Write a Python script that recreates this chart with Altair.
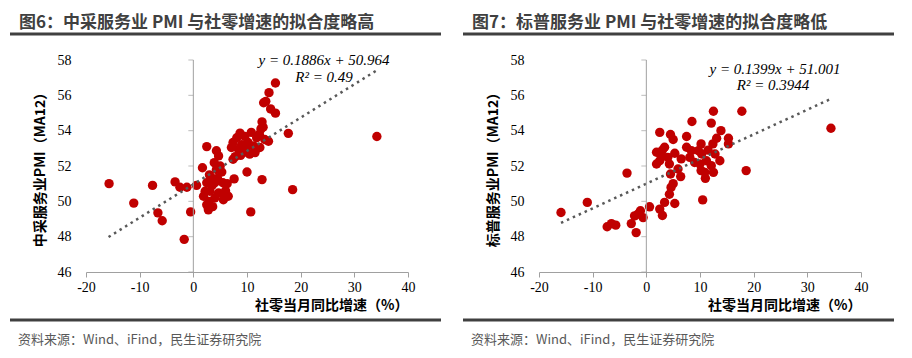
import altair as alt
import pandas as pd

# ---------------- data ----------------
# Figure 6: 社零当月同比增速 (x) vs 中采服务业PMI MA12 (y)
cn_x = [-15.7, -11.1, -7.6, -6.6, -5.8, -3.4, -2.5, -1.2, -1.7, -0.5, 0.6, 1.7, 2.5, 4.3, 4.7,
        3.9, 4.3, 5.3, 3.4, 2.5, 4.0, 5.5, 2.2, 3.1, 4.7, 5.6, 6.5, 1.9, 4.0, 5.6, 2.5, 2.8,
        7.6, 10.0, 12.8, 10.7, 18.5, 7.4, 7.8, 9.3, 8.4, 10.5, 11.5, 12.4, 11.2, 10.2, 7.1,
        7.4, 8.1, 8.7, 9.6, 12.3, 13.3, 14.0, 12.6, 12.8, 17.7, 15.3, 14.4, 13.1, 13.5, 14.1,
        15.3, 34.2, 3.5, 4.5, 6.0, 3.0, 5.0, 6.3, 2.9, 3.6, 9.0, 11.8, 10.8, 9.9, 13.0, 8.8]
cn_y = [51.0, 49.9, 50.9, 49.35, 48.9, 51.1, 50.8, 50.8, 47.85, 49.4, 50.9, 51.9, 53.1, 52.86, 52.57,
        52.19, 51.8, 51.66, 51.33, 51.05, 51.05, 51.05, 50.57, 50.57, 50.47, 50.38, 50.29, 50.29, 50.19, 50.09, 49.8, 49.52,
        51.27, 51.66, 51.23, 49.4, 50.66, 52.38, 52.53, 52.76, 52.95, 52.67, 52.76, 53.05, 53.14, 53.33, 53.05,
        53.33, 53.6, 53.86, 53.67, 53.8, 53.5, 53.4, 54.1, 54.5, 53.85, 54.99, 55.23, 55.58, 55.66, 56.15,
        56.7, 53.67, 50.9, 51.3, 50.6, 51.5, 52.0, 51.0, 50.0, 49.7, 53.2, 53.6, 53.9, 53.0, 54.2, 52.6]

# Figure 7: 社零当月同比增速 (x) vs 标普服务业PMI MA12 (y)
sp_x = [-15.9, -11.0, -7.3, -6.5, -5.7, -3.6, -2.8, -1.9, -1.6, -1.1, -0.6, -2.2, 0.6, 2.5, 3.0,
        3.4, 5.3, 4.3, 4.6, 5.0, 6.4, 10.5, 4.5, 5.9, 1.9, 1.9, 2.5, 4.0, 4.3, 3.4, 5.3, 6.5,
        8.1, 7.5, 8.4, 9.7, 10.3, 12.8, 13.7, 10.0, 11.2, 12.1, 10.2, 12.5, 10.9, 18.6, 10.2,
        12.4, 15.3, 13.1, 15.3, 13.9, 7.5, 5.0, 4.5, 2.5, 8.5, 12.1, 12.5, 17.8, 34.4,
        2.8, 3.0, 11.5, 9.0, 11.0]
sp_y = [49.37, 49.94, 48.56, 48.74, 48.65, 51.6, 48.74, 48.23, 49.27, 49.47, 49.08, 49.18, 49.69, 49.56, 49.2,
        49.94, 49.88, 50.4, 50.79, 51.0, 51.4, 50.08, 51.55, 51.83, 52.78, 52.11, 52.3, 52.49, 52.11, 53.06, 52.72, 52.4,
        52.49, 53.06, 52.87, 52.87, 52.68, 52.68, 52.3, 52.11, 52.3, 52.02, 51.74, 51.64, 51.64, 51.74, 53.25,
        53.25, 53.25, 53.57, 53.57, 54.0, 53.67, 53.5, 53.78, 53.9, 54.52, 54.43, 55.1, 55.1, 54.14,
        52.6, 52.9, 52.9, 52.2, 51.3]

# linear trend lines (end points)
cn_trend_x = [-15.8, 34.0]
cn_trend_y = [47.98, 57.38]
sp_trend_x = [-15.9, 34.4]
sp_trend_y = [48.78, 55.8]

x_ticks = [-20, -10, 0, 10, 20, 30, 40]
y_ticks = [46, 48, 50, 52, 54, 56, 58]

titles = ["图6：中采服务业 PMI 与社零增速的拟合度略高",
          "图7：标普服务业 PMI 与社零增速的拟合度略低"]
y_titles = ["中采服务业PMI（MA12）", "标普服务业PMI（MA12）"]
x_title = "社零当月同比增速（%）"
equations = [["y = 0.1886x + 50.964", "R² = 0.49"],
             ["y = 0.1399x + 51.001", "R² = 0.3944"]]
source = "资料来源：Wind、iFind，民生证券研究院"

# ---------------- styling ----------------
W, H = 322, 212
RED = "#C00000"
AXC = "#A0A0A0"
DARK = "#404040"
CJK = "Noto Sans CJK SC"
SERIF = "Liberation Serif"
LABEL_EXPR = "datum.value < 0 ? '-' + abs(datum.value) : '' + datum.value"


def one(text):
    return pd.DataFrame({"t": [text]})


def panel(px, py, tx, ty, title, ytitle, eq, eq_pos):
    xs = alt.Scale(domain=[-20, 40], nice=False, zero=False)
    ys = alt.Scale(domain=[46, 58], nice=False, zero=False)
    xaxis = alt.Axis(values=x_ticks, title=x_title, titleAnchor="end", titleAlign="right",
                     titleFont=CJK, titleFontSize=14, titleFontWeight="bold", titleColor="#000",
                     titlePadding=4, labelFont=SERIF, labelFontSize=14, labelColor="#000",
                     labelPadding=3, labelFlush=False, labelOverlap=False, labelExpr=LABEL_EXPR,
                     tickColor=AXC, domainColor=AXC, tickSize=5, grid=False)
    yaxis = alt.Axis(values=y_ticks, title=ytitle, titleFont=CJK, titleFontSize=14,
                     titleFontWeight="bold", titleColor="#000", titlePadding=10,
                     labelFont=SERIF, labelFontSize=14, labelColor="#000", labelPadding=15,
                     labelOverlap=False, labelFlush=False, labelBound=False,
                     domain=False, ticks=False, grid=False)

    def X(f="x:Q"):
        return alt.X(f, scale=xs, axis=xaxis)

    def Y(f="y:Q"):
        return alt.Y(f, scale=ys, axis=yaxis)

    pts = alt.Chart(pd.DataFrame({"x": px, "y": py})).mark_circle(
        size=88, color=RED, opacity=1).encode(x=X(), y=Y())

    trend = alt.Chart(pd.DataFrame({"x": tx, "y": ty})).mark_line(
        color="#595959", strokeWidth=2.5, strokeDash=[2.5, 4]).encode(x=X(), y=Y())

    vaxis = alt.Chart(pd.DataFrame({"x": [0], "y": [46], "y2": [58]})).mark_rule(
        color=AXC, strokeWidth=1).encode(x=X(), y=Y(), y2="y2:Q")
    vticks = alt.Chart(pd.DataFrame({"x": [0] * len(y_ticks), "y": y_ticks})).mark_tick(
        orient="horizontal", size=5, thickness=1, color=AXC, xOffset=-2.5).encode(x=X(), y=Y())

    eq1 = alt.Chart(one(eq[0])).mark_text(
        font=SERIF, fontSize=15, fontStyle="italic", color="#000", align="center",
        baseline="middle").encode(text="t:N", x=alt.value(eq_pos[0]), y=alt.value(eq_pos[1]))
    eq2 = alt.Chart(one(eq[1])).mark_text(
        font=SERIF, fontSize=15, fontStyle="italic", color="#000", align="center",
        baseline="middle").encode(text="t:N", x=alt.value(eq_pos[2]), y=alt.value(eq_pos[3]))

    head = alt.Chart(one(title)).mark_text(
        font=CJK, fontSize=17, fontWeight="bold", color=DARK, align="left",
        baseline="middle").encode(text="t:N", x=alt.value(-67), y=alt.value(-37.5))
    head_line = alt.Chart(one("")).mark_rule(color=DARK, strokeWidth=3).encode(
        x=alt.value(-76), x2=alt.value(355), y=alt.value(-26))
    foot_line = alt.Chart(one("")).mark_rule(color=DARK, strokeWidth=3).encode(
        x=alt.value(-76), x2=alt.value(355), y=alt.value(260))
    foot = alt.Chart(one(source)).mark_text(
        font=CJK, fontSize=13, color="#595959", align="left",
        baseline="middle").encode(text="t:N", x=alt.value(-68), y=alt.value(280))

    return alt.layer(pts, trend, vaxis, vticks, eq1, eq2, head, head_line, foot_line, foot
                     ).properties(width=W, height=H)


left = panel(cn_x, cn_y, cn_trend_x, cn_trend_y, titles[0], y_titles[0], equations[0],
             [238, 0, 238, 17])
right = panel(sp_x, sp_y, sp_trend_x, sp_trend_y, titles[1], y_titles[1], equations[1],
              [236, 9, 234, 25])

chart = alt.hconcat(left, right, spacing=18).properties(
    padding={"left": 0, "top": 5, "right": 0, "bottom": 0},
    background="white"
).configure_view(stroke=None).configure_axis(labelOverlap=False)

chart.save("out.html", embed_options={"renderer": "svg", "actions": False})
